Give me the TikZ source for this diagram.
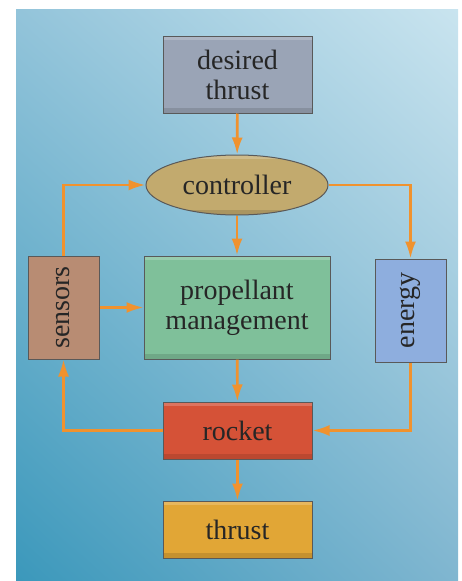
\documentclass[tikz,border=0pt]{standalone}
\usepackage{fontspec}
\setmainfont{Liberation Serif}
\usepackage{tikz}
\usetikzlibrary{
    calc,
    arrows.meta,
    shadings,
    shapes.geometric,
    positioning
}
\definecolor{bgdark}{HTML}{3B98BB}
\definecolor{bgmid}{HTML}{80B6D0}
\definecolor{bgtop}{HTML}{93C4DA}
\definecolor{bglight}{HTML}{C9E4EF}
\definecolor{arrowc}{HTML}{F0922E}
\definecolor{desiredc}{HTML}{9AA4B6}
\definecolor{ctrlc}{HTML}{C2AA6E}
\definecolor{propc}{HTML}{7FC09A}
\definecolor{sensc}{HTML}{B88C73}
\definecolor{energc}{HTML}{8EAEDE}
\definecolor{rocketc}{HTML}{D55237}
\definecolor{thrustc}{HTML}{E1A636}
\tikzset{
    block/.style={
        draw=black!65, line width=1pt, text=black!85,
        align=center, inner sep=0pt,
        font=\fontsize{28}{30}\selectfont,
        path picture={
            \fill[white, opacity=0.2] (path picture bounding box.north west)
                rectangle ([yshift=-4pt]path picture bounding box.north east);
            \fill[black, opacity=0.12] (path picture bounding box.south west)
                rectangle ([yshift=5pt]path picture bounding box.south east);
        }
    },
    flow/.style={
        draw=arrowc, line width=2.6pt,
        -{Latex[length=17pt,width=11pt]}
    }
}

\begin{document}
\begin{tikzpicture}[x=1pt,y=-1pt]
    % background
    \useasboundingbox (0,0) rectangle (462,581);
    \shade[upper left=bgtop, upper right=bglight,
        lower left=bgdark, lower right=bgmid] (16,9) rectangle (458,581);
    % blocks
    \node[block, fill=desiredc, minimum width=149pt, minimum height=77pt]
        (desired) at (237.5,74.5) {desired\\thrust};
    \node[block, ellipse, fill=ctrlc, minimum width=182pt, minimum height=60pt]
        (ctrl) at (237,185) {controller};
    \node[block, fill=propc, minimum width=186pt, minimum height=103pt]
        (prop) at (237,307.5) {propellant\\management};
    \node[block, fill=sensc, minimum width=103pt, minimum height=71pt, rotate=90]
        (sens) at (63.5,307.5) {sensors};
    \node[block, fill=energc, minimum width=103pt, minimum height=71pt, rotate=90]
        (energ) at (410.5,310.5) {energy};
    \node[block, fill=rocketc, minimum width=149pt, minimum height=57pt]
        (rocket) at (237.5,430.5) {rocket};
    \node[block, fill=thrustc, minimum width=149pt, minimum height=57pt]
        (thrust) at (237.5,529.5) {thrust};
    % connectors
    \draw[flow] (desired) -- (ctrl);
    \draw[flow] (ctrl) -- (prop);
    \draw[flow] (ctrl.east) -| (energ.east);
    \draw[flow] (sens.east) |- (ctrl.west);
    \draw[flow] (sens.south) -- (sens.south -| prop.west);
    \draw[flow] (prop) -- (rocket);
    \draw[flow] (energ.west) |- (rocket.east);
    \draw[flow] (rocket.west) -| (sens.west);
    \draw[flow] (rocket) -- (thrust);
\end{tikzpicture}
\end{document}
